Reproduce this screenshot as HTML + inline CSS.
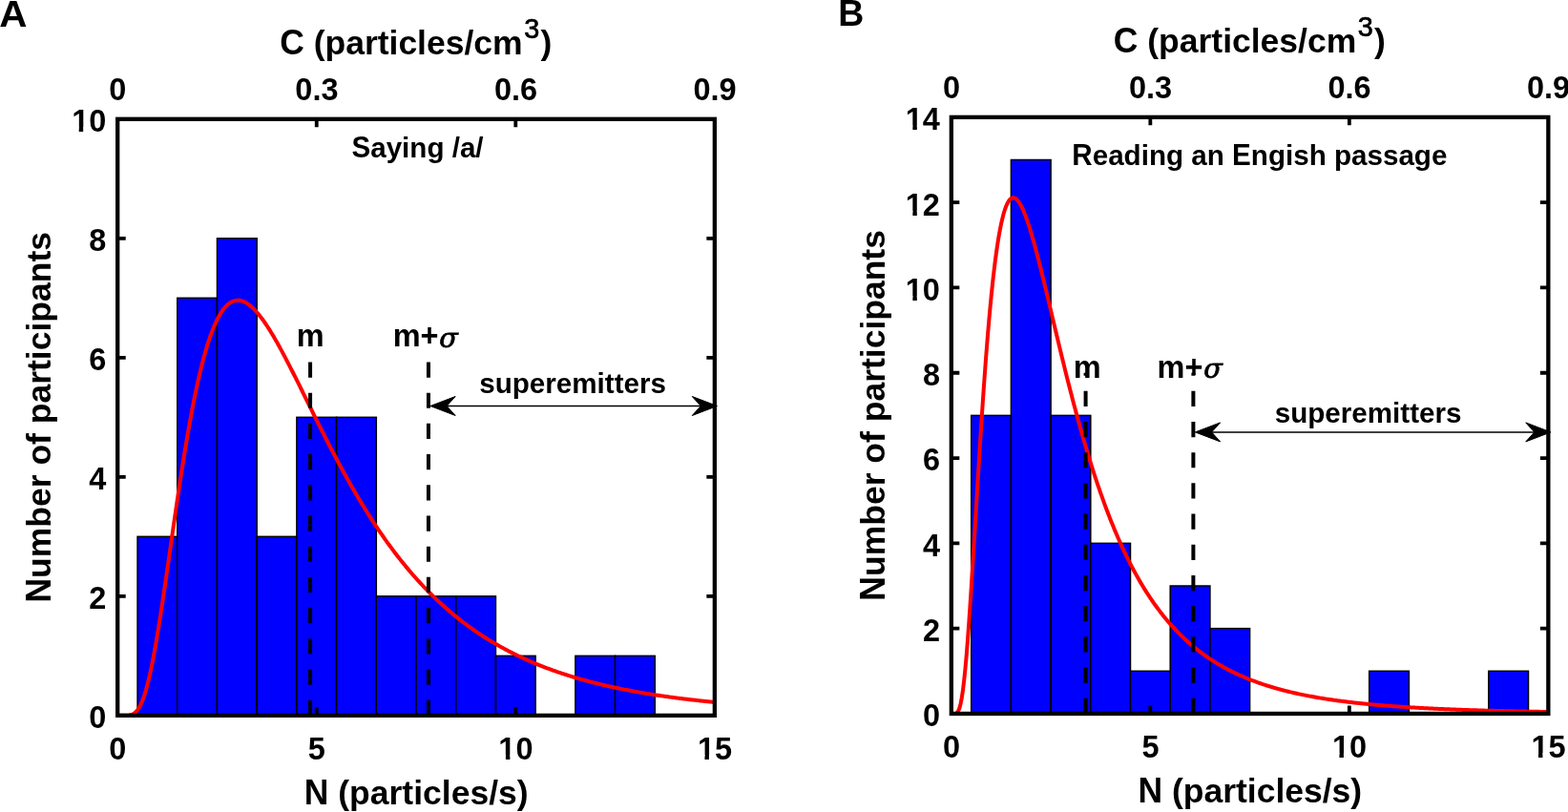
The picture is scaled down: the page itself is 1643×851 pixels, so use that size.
<!DOCTYPE html><html><head><meta charset="utf-8"><title>Particle emission histograms</title><style>html,body{margin:0;padding:0;background:#fff;overflow:hidden}svg{display:block}text{white-space:pre}</style></head><body><svg xml:space="preserve" width="1643" height="851" viewBox="0 0 1643 851"><defs><clipPath id="nofoot" clipPathUnits="userSpaceOnUse"><path clip-rule="evenodd" d="M-10 -10H1660V870H-10ZM75.15 133.32H82.74V139.7H75.15ZM87.19 133.32H93.84V139.7H87.19ZM522.33 791.18H529.91V797.55H522.33ZM534.37 791.18H541.01V797.55H534.37ZM730.88 791.18H738.46V797.55H730.88ZM742.92 791.18H749.56V797.55H742.92ZM948.8 309.98H956.39V316.35H948.8ZM960.84 309.98H967.49V316.35H960.84ZM948.8 220.68H956.39V227.05H948.8ZM960.84 220.68H967.49V227.05H960.84ZM948.8 131.38H956.39V137.75H948.8ZM960.84 131.38H967.49V137.75H960.84ZM1395.88 789.28H1403.46V795.65H1395.88ZM1407.92 789.28H1414.56V795.65H1407.92ZM1604.38 789.28H1611.96V795.65H1604.38ZM1616.42 789.28H1623.06V795.65H1616.42Z"/></clipPath></defs><rect width="1643" height="851" fill="#fff"/><g fill="#0000ff" stroke="#000" stroke-width="1.5"><rect x="144.06" y="562.34" width="41.71" height="187.52"/><rect x="185.76" y="312.31" width="41.71" height="437.54"/><rect x="227.48" y="249.81" width="41.71" height="500.04"/><rect x="269.19" y="562.34" width="41.71" height="187.52"/><rect x="310.89" y="437.32" width="41.71" height="312.53"/><rect x="352.61" y="437.32" width="41.71" height="312.53"/><rect x="394.31" y="624.84" width="41.71" height="125.01"/><rect x="436.02" y="624.84" width="41.71" height="125.01"/><rect x="477.74" y="624.84" width="41.71" height="125.01"/><rect x="519.45" y="687.35" width="41.71" height="62.51"/><rect x="602.87" y="687.35" width="41.71" height="62.51"/><rect x="644.58" y="687.35" width="41.71" height="62.51"/></g><polyline fill="none" stroke="#ff0000" stroke-width="4" stroke-linejoin="round" points="123.2,749.85 124.03,749.85 125.28,749.85 126.53,749.85 127.78,749.85 129.03,749.85 130.28,749.84 131.53,749.83 132.78,749.79 134.03,749.71 135.28,749.57 136.53,749.34 137.78,748.99 139.03,748.48 140.28,747.78 141.53,746.85 142.78,745.65 144.03,744.17 145.28,742.36 146.53,740.2 147.78,737.68 149.03,734.78 150.28,731.49 151.53,727.8 152.78,723.72 154.03,719.23 155.27,714.36 156.52,709.1 157.77,703.48 159.02,697.5 160.27,691.19 161.52,684.55 162.77,677.62 164.02,670.41 165.27,662.95 166.52,655.25 167.77,647.35 169.02,639.27 170.27,631.02 171.52,622.64 172.77,614.14 174.02,605.55 175.27,596.89 176.52,588.19 177.77,579.45 179.02,570.7 180.27,561.97 181.52,553.26 182.77,544.59 184.02,535.99 185.27,527.46 186.52,519.01 187.77,510.67 189.02,502.44 190.26,494.34 191.51,486.37 192.76,478.54 194.01,470.87 195.26,463.35 196.51,456.01 197.76,448.83 199.01,441.84 200.26,435.02 201.51,428.4 202.76,421.96 204.01,415.72 205.26,409.68 206.51,403.83 207.76,398.18 209.01,392.73 210.26,387.49 211.51,382.44 212.76,377.59 214.01,372.95 215.26,368.5 216.51,364.25 217.76,360.2 219.01,356.34 220.26,352.67 221.51,349.19 222.76,345.9 224,342.8 225.25,339.88 226.5,337.14 227.75,334.57 229,332.18 230.25,329.96 231.5,327.91 232.75,326.02 234,324.29 235.25,322.72 236.5,321.31 237.75,320.04 239,318.92 240.25,317.94 241.5,317.11 242.75,316.4 244,315.84 245.25,315.4 246.5,315.08 247.75,314.89 249,314.82 250.25,314.86 251.5,315.01 252.75,315.27 254,315.64 255.25,316.11 256.5,316.68 257.74,317.34 258.99,318.09 260.24,318.94 261.49,319.87 262.74,320.88 263.99,321.97 265.24,323.14 266.49,324.39 267.74,325.7 268.99,327.09 270.24,328.54 271.49,330.06 272.74,331.63 273.99,333.27 275.24,334.96 276.49,336.7 277.74,338.5 278.99,340.35 280.24,342.24 281.49,344.18 282.74,346.16 283.99,348.18 285.24,350.24 286.49,352.34 287.74,354.47 288.99,356.63 290.24,358.83 291.48,361.06 292.73,363.31 293.98,365.59 295.23,367.89 296.48,370.22 297.73,372.57 298.98,374.94 300.23,377.33 301.48,379.73 302.73,382.16 303.98,384.59 305.23,387.04 306.48,389.5 307.73,391.98 308.98,394.46 310.23,396.95 311.48,399.45 312.73,401.96 313.98,404.47 315.23,406.99 316.48,409.51 317.73,412.04 318.98,414.57 320.23,417.09 321.48,419.62 322.73,422.15 323.98,424.68 325.22,427.21 326.47,429.73 327.72,432.25 328.97,434.77 330.22,437.28 331.47,439.79 332.72,442.29 333.97,444.79 335.22,447.28 336.47,449.77 337.72,452.24 338.97,454.71 340.22,457.17 341.47,459.62 342.72,462.06 343.97,464.5 345.22,466.92 346.47,469.33 347.72,471.73 348.97,474.12 350.22,476.5 351.47,478.87 352.72,481.23 353.97,483.57 355.22,485.91 356.47,488.23 357.72,490.53 358.96,492.83 360.21,495.11 361.46,497.37 362.71,499.63 363.96,501.87 365.21,504.1 366.46,506.31 367.71,508.51 368.96,510.69 370.21,512.86 371.46,515.02 372.71,517.16 373.96,519.28 375.21,521.4 376.46,523.49 377.71,525.57 378.96,527.64 380.21,529.69 381.46,531.73 382.71,533.75 383.96,535.76 385.21,537.75 386.46,539.73 387.71,541.69 388.96,543.64 390.21,545.57 391.46,547.49 392.7,549.39 393.95,551.27 395.2,553.14 396.45,555 397.7,556.84 398.95,558.67 400.2,560.48 401.45,562.27 402.7,564.05 403.95,565.82 405.2,567.57 406.45,569.31 407.7,571.03 408.95,572.74 410.2,574.43 411.45,576.11 412.7,577.77 413.95,579.42 415.2,581.05 416.45,582.67 417.7,584.28 418.95,585.87 420.2,587.44 421.45,589.01 422.7,590.56 423.95,592.09 425.2,593.61 426.45,595.12 427.69,596.61 428.94,598.09 430.19,599.56 431.44,601.01 432.69,602.45 433.94,603.88 435.19,605.29 436.44,606.69 437.69,608.08 438.94,609.45 440.19,610.82 441.44,612.16 442.69,613.5 443.94,614.82 445.19,616.13 446.44,617.43 447.69,618.72 448.94,619.99 450.19,621.25 451.44,622.5 452.69,623.74 453.94,624.97 455.19,626.18 456.44,627.39 457.69,628.58 458.94,629.76 460.19,630.92 461.43,632.08 462.68,633.23 463.93,634.36 465.18,635.48 466.43,636.6 467.68,637.7 468.93,638.79 470.18,639.87 471.43,640.94 472.68,642 473.93,643.05 475.18,644.09 476.43,645.12 477.68,646.13 478.93,647.14 480.18,648.14 481.43,649.13 482.68,650.11 483.93,651.08 485.18,652.04 486.43,652.99 487.68,653.93 488.93,654.86 490.18,655.78 491.43,656.69 492.68,657.6 493.93,658.49 495.17,659.38 496.42,660.26 497.67,661.12 498.92,661.98 500.17,662.83 501.42,663.68 502.67,664.51 503.92,665.34 505.17,666.16 506.42,666.97 507.67,667.77 508.92,668.56 510.17,669.35 511.42,670.12 512.67,670.89 513.92,671.66 515.17,672.41 516.42,673.16 517.67,673.9 518.92,674.63 520.17,675.35 521.42,676.07 522.67,676.78 523.92,677.48 525.17,678.18 526.42,678.87 527.67,679.55 528.91,680.23 530.16,680.89 531.41,681.56 532.66,682.21 533.91,682.86 535.16,683.5 536.41,684.14 537.66,684.77 538.91,685.39 540.16,686.01 541.41,686.62 542.66,687.22 543.91,687.82 545.16,688.41 546.41,689 547.66,689.58 548.91,690.15 550.16,690.72 551.41,691.28 552.66,691.84 553.91,692.39 555.16,692.94 556.41,693.48 557.66,694.02 558.91,694.55 560.16,695.07 561.41,695.59 562.65,696.1 563.9,696.61 565.15,697.12 566.4,697.62 567.65,698.11 568.9,698.6 570.15,699.08 571.4,699.56 572.65,700.04 573.9,700.51 575.15,700.97 576.4,701.43 577.65,701.89 578.9,702.34 580.15,702.78 581.4,703.23 582.65,703.66 583.9,704.1 585.15,704.53 586.4,704.95 587.65,705.37 588.9,705.79 590.15,706.2 591.4,706.61 592.65,707.01 593.9,707.41 595.15,707.81 596.39,708.2 597.64,708.59 598.89,708.97 600.14,709.35 601.39,709.73 602.64,710.1 603.89,710.47 605.14,710.83 606.39,711.2 607.64,711.55 608.89,711.91 610.14,712.26 611.39,712.61 612.64,712.95 613.89,713.29 615.14,713.63 616.39,713.96 617.64,714.3 618.89,714.62 620.14,714.95 621.39,715.27 622.64,715.59 623.89,715.9 625.14,716.21 626.39,716.52 627.64,716.83 628.89,717.13 630.13,717.43 631.38,717.73 632.63,718.02 633.88,718.31 635.13,718.6 636.38,718.88 637.63,719.17 638.88,719.44 640.13,719.72 641.38,720 642.63,720.27 643.88,720.54 645.13,720.8 646.38,721.07 647.63,721.33 648.88,721.58 650.13,721.84 651.38,722.09 652.63,722.34 653.88,722.59 655.13,722.84 656.38,723.08 657.63,723.32 658.88,723.56 660.13,723.8 661.38,724.03 662.63,724.27 663.88,724.5 665.12,724.72 666.37,724.95 667.62,725.17 668.87,725.39 670.12,725.61 671.37,725.83 672.62,726.04 673.87,726.26 675.12,726.47 676.37,726.68 677.62,726.88 678.87,727.09 680.12,727.29 681.37,727.49 682.62,727.69 683.87,727.88 685.12,728.08 686.37,728.27 687.62,728.46 688.87,728.65 690.12,728.84 691.37,729.03 692.62,729.21 693.87,729.39 695.12,729.57 696.37,729.75 697.62,729.93 698.86,730.1 700.11,730.28 701.36,730.45 702.61,730.62 703.86,730.79 705.11,730.96 706.36,731.12 707.61,731.29 708.86,731.45 710.11,731.61 711.36,731.77 712.61,731.93 713.86,732.08 715.11,732.24 716.36,732.39 717.61,732.54 718.86,732.69 720.11,732.84 721.36,732.99 722.61,733.14 723.86,733.28 725.11,733.42 726.36,733.57 727.61,733.71 728.86,733.85 730.11,733.99 731.36,734.12 732.6,734.26 733.85,734.39 735.1,734.53 736.35,734.66 737.6,734.79 738.85,734.92 740.1,735.05 741.35,735.17 742.6,735.3 743.85,735.42 745.1,735.55 746.35,735.67 747.6,735.79 748.85,735.91"/><g stroke="#000" stroke-width="4" stroke-dasharray="16.2 16"><line x1="325.08" y1="749.85" x2="325.08" y2="374.82"/><line x1="448.96" y1="749.85" x2="448.96" y2="374.82"/></g><line x1="460.96" y1="425.5" x2="741.45" y2="425.5" stroke="#000" stroke-width="1.5"/><path stroke="#000" stroke-width="1" stroke-linejoin="round" d="M450.96 425.5L477.16 415.5L468.16 425.5L477.16 435.5ZM751.45 425.5L725.25 415.5L734.25 425.5L725.25 435.5Z"/><rect x="123.2" y="124.8" width="625.65" height="625.05" fill="none" stroke="#000" stroke-width="4.3"/><path d="M123.2 624.84H131.7M748.85 624.84H740.35M123.2 499.83H131.7M748.85 499.83H740.35M123.2 374.82H131.7M748.85 374.82H740.35M123.2 249.81H131.7M748.85 249.81H740.35M331.75 749.85V741.35M540.3 749.85V741.35M331.75 124.8V133.3M540.3 124.8V133.3" stroke="#000" stroke-width="3.8" fill="none"/><g font-family="'Liberation Sans', Arial, Helvetica, sans-serif" font-weight="bold" fill="#000"><g clip-path="url(#nofoot)"><text transform="translate(93.23 763.25) scale(1 1.04)" font-size="32.5">0</text><text transform="translate(93.23 638.24) scale(1 1.04)" font-size="32.5">2</text><text transform="translate(93.23 513.23) scale(1 1.04)" font-size="32.5">4</text><text transform="translate(93.23 388.22) scale(1 1.04)" font-size="32.5">6</text><text transform="translate(93.23 263.21) scale(1 1.04)" font-size="32.5">8</text><text transform="translate(75.15 138.2) scale(1 1.04)" font-size="32.5">10</text><text transform="translate(114.26 796.05) scale(1 1.04)" font-size="32.5">0</text><text transform="translate(322.81 796.05) scale(1 1.04)" font-size="32.5">5</text><text transform="translate(522.33 796.05) scale(1 1.04)" font-size="32.5">10</text><text transform="translate(730.88 796.05) scale(1 1.04)" font-size="32.5">15</text><text transform="translate(114.36 105.2) scale(1 1.04)" font-size="32.5">0</text><text transform="translate(309.36 105.2) scale(1 1.04)" font-size="32.5">0</text><text x="327.44" y="105.2" font-size="32.5">.</text><text transform="translate(336.46 105.2) scale(1 1.04)" font-size="32.5">3</text><text transform="translate(517.91 105.2) scale(1 1.04)" font-size="32.5">0</text><text x="535.99" y="105.2" font-size="32.5">.</text><text transform="translate(545.01 105.2) scale(1 1.04)" font-size="32.5">6</text><text transform="translate(726.46 105.2) scale(1 1.04)" font-size="32.5">0</text><text x="744.54" y="105.2" font-size="32.5">.</text><text transform="translate(753.56 105.2) scale(1 1.04)" font-size="32.5">9</text></g><text transform="translate(318.81 843.3) scale(1 1.04)" font-size="35.5">N</text><text x="344.45" y="843.3" font-size="35.5"> (particles/s)</text><text transform="translate(293.14 56.8) scale(1 1.04)" font-size="35.5">C</text><text x="318.78" y="56.8" font-size="35.5"> (particles/cm</text><text x="549.21" y="40.2" font-size="28.8" font-weight="normal" stroke="#000" stroke-width="0.7">3</text><text x="566.4" y="56.8" font-size="35.5">)</text><text transform="translate(53.3 631.59) rotate(-90) scale(1 1.04)" font-size="35.5">N</text><text transform="translate(53.3 605.95) rotate(-90) scale(1 1)" font-size="35.5">umber of participants</text></g><g fill="#0000ff" stroke="#000" stroke-width="1.5"><rect x="1017.7" y="435.4" width="41.7" height="312.55"/><rect x="1059.4" y="167.5" width="41.7" height="580.45"/><rect x="1101.1" y="435.4" width="41.7" height="312.55"/><rect x="1142.8" y="569.35" width="41.7" height="178.6"/><rect x="1184.5" y="703.3" width="41.7" height="44.65"/><rect x="1226.2" y="614" width="41.7" height="133.95"/><rect x="1267.9" y="658.65" width="41.7" height="89.3"/><rect x="1434.7" y="703.3" width="41.7" height="44.65"/><rect x="1559.8" y="703.3" width="41.7" height="44.65"/></g><polyline fill="none" stroke="#ff0000" stroke-width="4" stroke-linejoin="round" points="996.85,747.95 997.68,747.95 998.93,747.95 1000.18,747.92 1001.43,747.71 1002.68,747.02 1003.93,745.47 1005.18,742.64 1006.43,738.2 1007.68,731.91 1008.93,723.64 1010.18,713.36 1011.43,701.14 1012.68,687.11 1013.93,671.46 1015.17,654.39 1016.42,636.14 1017.67,616.93 1018.92,597 1020.17,576.56 1021.42,555.83 1022.67,534.98 1023.92,514.2 1025.17,493.63 1026.42,473.41 1027.67,453.65 1028.92,434.45 1030.17,415.89 1031.42,398.04 1032.67,380.95 1033.91,364.66 1035.16,349.2 1036.41,334.6 1037.66,320.86 1038.91,307.99 1040.16,295.99 1041.41,284.86 1042.66,274.57 1043.91,265.12 1045.16,256.49 1046.41,248.66 1047.66,241.59 1048.91,235.28 1050.16,229.69 1051.41,224.79 1052.65,220.56 1053.9,216.97 1055.15,213.98 1056.4,211.59 1057.65,209.74 1058.9,208.42 1060.15,207.6 1061.4,207.25 1062.65,207.35 1063.9,207.88 1065.15,208.8 1066.4,210.09 1067.65,211.73 1068.9,213.7 1070.15,215.98 1071.39,218.55 1072.64,221.38 1073.89,224.46 1075.14,227.77 1076.39,231.3 1077.64,235.02 1078.89,238.93 1080.14,243 1081.39,247.23 1082.64,251.59 1083.89,256.08 1085.14,260.69 1086.39,265.4 1087.64,270.2 1088.89,275.09 1090.13,280.05 1091.38,285.07 1092.63,290.15 1093.88,295.28 1095.13,300.45 1096.38,305.64 1097.63,310.87 1098.88,316.12 1100.13,321.37 1101.38,326.64 1102.63,331.91 1103.88,337.18 1105.13,342.45 1106.38,347.7 1107.63,352.94 1108.87,358.16 1110.12,363.36 1111.37,368.53 1112.62,373.68 1113.87,378.79 1115.12,383.88 1116.37,388.93 1117.62,393.94 1118.87,398.92 1120.12,403.85 1121.37,408.74 1122.62,413.59 1123.87,418.39 1125.12,423.14 1126.37,427.85 1127.61,432.51 1128.86,437.12 1130.11,441.68 1131.36,446.19 1132.61,450.65 1133.86,455.06 1135.11,459.41 1136.36,463.72 1137.61,467.97 1138.86,472.16 1140.11,476.31 1141.36,480.4 1142.61,484.44 1143.86,488.42 1145.11,492.36 1146.35,496.24 1147.6,500.06 1148.85,503.84 1150.1,507.56 1151.35,511.23 1152.6,514.85 1153.85,518.42 1155.1,521.94 1156.35,525.4 1157.6,528.82 1158.85,532.18 1160.1,535.5 1161.35,538.77 1162.6,541.99 1163.85,545.16 1165.09,548.28 1166.34,551.36 1167.59,554.39 1168.84,557.38 1170.09,560.32 1171.34,563.21 1172.59,566.06 1173.84,568.87 1175.09,571.63 1176.34,574.35 1177.59,577.03 1178.84,579.66 1180.09,582.26 1181.34,584.81 1182.59,587.32 1183.83,589.8 1185.08,592.23 1186.33,594.63 1187.58,596.99 1188.83,599.31 1190.08,601.59 1191.33,603.84 1192.58,606.06 1193.83,608.23 1195.08,610.38 1196.33,612.48 1197.58,614.56 1198.83,616.6 1200.08,618.61 1201.33,620.58 1202.57,622.53 1203.82,624.44 1205.07,626.33 1206.32,628.18 1207.57,630 1208.82,631.79 1210.07,633.56 1211.32,635.29 1212.57,637 1213.82,638.68 1215.07,640.34 1216.32,641.96 1217.57,643.56 1218.82,645.14 1220.07,646.69 1221.31,648.21 1222.56,649.71 1223.81,651.19 1225.06,652.64 1226.31,654.07 1227.56,655.47 1228.81,656.86 1230.06,658.22 1231.31,659.56 1232.56,660.87 1233.81,662.17 1235.06,663.45 1236.31,664.7 1237.56,665.94 1238.81,667.15 1240.05,668.35 1241.3,669.52 1242.55,670.68 1243.8,671.82 1245.05,672.94 1246.3,674.04 1247.55,675.13 1248.8,676.2 1250.05,677.25 1251.3,678.28 1252.55,679.3 1253.8,680.3 1255.05,681.29 1256.3,682.26 1257.55,683.21 1258.79,684.15 1260.04,685.07 1261.29,685.98 1262.54,686.88 1263.79,687.76 1265.04,688.63 1266.29,689.48 1267.54,690.32 1268.79,691.15 1270.04,691.96 1271.29,692.77 1272.54,693.55 1273.79,694.33 1275.04,695.1 1276.29,695.85 1277.53,696.59 1278.78,697.32 1280.03,698.04 1281.28,698.74 1282.53,699.44 1283.78,700.12 1285.03,700.8 1286.28,701.46 1287.53,702.11 1288.78,702.76 1290.03,703.39 1291.28,704.01 1292.53,704.63 1293.78,705.23 1295.03,705.83 1296.27,706.41 1297.52,706.99 1298.77,707.56 1300.02,708.12 1301.27,708.67 1302.52,709.21 1303.77,709.75 1305.02,710.27 1306.27,710.79 1307.52,711.3 1308.77,711.81 1310.02,712.3 1311.27,712.79 1312.52,713.27 1313.76,713.74 1315.01,714.21 1316.26,714.67 1317.51,715.12 1318.76,715.56 1320.01,716 1321.26,716.43 1322.51,716.86 1323.76,717.28 1325.01,717.69 1326.26,718.1 1327.51,718.5 1328.76,718.89 1330.01,719.28 1331.26,719.67 1332.5,720.04 1333.75,720.42 1335,720.78 1336.25,721.14 1337.5,721.5 1338.75,721.85 1340,722.19 1341.25,722.53 1342.5,722.87 1343.75,723.2 1345,723.53 1346.25,723.85 1347.5,724.16 1348.75,724.47 1350,724.78 1351.24,725.08 1352.49,725.38 1353.74,725.68 1354.99,725.97 1356.24,726.25 1357.49,726.53 1358.74,726.81 1359.99,727.08 1361.24,727.35 1362.49,727.62 1363.74,727.88 1364.99,728.14 1366.24,728.39 1367.49,728.64 1368.74,728.89 1369.98,729.13 1371.23,729.37 1372.48,729.61 1373.73,729.84 1374.98,730.07 1376.23,730.3 1377.48,730.52 1378.73,730.75 1379.98,730.96 1381.23,731.18 1382.48,731.39 1383.73,731.6 1384.98,731.8 1386.23,732 1387.48,732.2 1388.72,732.4 1389.97,732.6 1391.22,732.79 1392.47,732.98 1393.72,733.16 1394.97,733.35 1396.22,733.53 1397.47,733.71 1398.72,733.88 1399.97,734.06 1401.22,734.23 1402.47,734.4 1403.72,734.56 1404.97,734.73 1406.22,734.89 1407.46,735.05 1408.71,735.21 1409.96,735.36 1411.21,735.52 1412.46,735.67 1413.71,735.82 1414.96,735.97 1416.21,736.11 1417.46,736.25 1418.71,736.4 1419.96,736.54 1421.21,736.67 1422.46,736.81 1423.71,736.94 1424.96,737.08 1426.2,737.21 1427.45,737.34 1428.7,737.46 1429.95,737.59 1431.2,737.71 1432.45,737.83 1433.7,737.95 1434.95,738.07 1436.2,738.19 1437.45,738.31 1438.7,738.42 1439.95,738.53 1441.2,738.64 1442.45,738.75 1443.7,738.86 1444.94,738.97 1446.19,739.07 1447.44,739.18 1448.69,739.28 1449.94,739.38 1451.19,739.48 1452.44,739.58 1453.69,739.68 1454.94,739.78 1456.19,739.87 1457.44,739.96 1458.69,740.06 1459.94,740.15 1461.19,740.24 1462.44,740.33 1463.68,740.42 1464.93,740.5 1466.18,740.59 1467.43,740.67 1468.68,740.76 1469.93,740.84 1471.18,740.92 1472.43,741 1473.68,741.08 1474.93,741.16 1476.18,741.24 1477.43,741.31 1478.68,741.39 1479.93,741.46 1481.18,741.53 1482.42,741.61 1483.67,741.68 1484.92,741.75 1486.17,741.82 1487.42,741.89 1488.67,741.96 1489.92,742.02 1491.17,742.09 1492.42,742.16 1493.67,742.22 1494.92,742.28 1496.17,742.35 1497.42,742.41 1498.67,742.47 1499.92,742.53 1501.16,742.59 1502.41,742.65 1503.66,742.71 1504.91,742.77 1506.16,742.83 1507.41,742.88 1508.66,742.94 1509.91,742.99 1511.16,743.05 1512.41,743.1 1513.66,743.15 1514.91,743.21 1516.16,743.26 1517.41,743.31 1518.66,743.36 1519.9,743.41 1521.15,743.46 1522.4,743.51 1523.65,743.56 1524.9,743.6 1526.15,743.65 1527.4,743.7 1528.65,743.74 1529.9,743.79 1531.15,743.83 1532.4,743.88 1533.65,743.92 1534.9,743.97 1536.15,744.01 1537.4,744.05 1538.64,744.09 1539.89,744.13 1541.14,744.17 1542.39,744.21 1543.64,744.25 1544.89,744.29 1546.14,744.33 1547.39,744.37 1548.64,744.41 1549.89,744.45 1551.14,744.48 1552.39,744.52 1553.64,744.56 1554.89,744.59 1556.14,744.63 1557.38,744.66 1558.63,744.7 1559.88,744.73 1561.13,744.76 1562.38,744.8 1563.63,744.83 1564.88,744.86 1566.13,744.89 1567.38,744.93 1568.63,744.96 1569.88,744.99 1571.13,745.02 1572.38,745.05 1573.63,745.08 1574.88,745.11 1576.12,745.14 1577.37,745.17 1578.62,745.2 1579.87,745.22 1581.12,745.25 1582.37,745.28 1583.62,745.31 1584.87,745.33 1586.12,745.36 1587.37,745.39 1588.62,745.41 1589.87,745.44 1591.12,745.47 1592.37,745.49 1593.62,745.52 1594.86,745.54 1596.11,745.56 1597.36,745.59 1598.61,745.61 1599.86,745.64 1601.11,745.66 1602.36,745.68 1603.61,745.71 1604.86,745.73 1606.11,745.75 1607.36,745.77 1608.61,745.79 1609.86,745.82 1611.11,745.84 1612.36,745.86 1613.6,745.88 1614.85,745.9 1616.1,745.92 1617.35,745.94 1618.6,745.96 1619.85,745.98 1621.1,746 1622.35,746.02"/><g stroke="#000" stroke-width="4" stroke-dasharray="16.2 16"><line x1="1137.59" y1="747.95" x2="1137.59" y2="390.75"/><line x1="1250.39" y1="747.95" x2="1250.39" y2="390.75"/></g><line x1="1262.39" y1="452.9" x2="1614.95" y2="452.9" stroke="#000" stroke-width="1.5"/><path stroke="#000" stroke-width="1" stroke-linejoin="round" d="M1252.39 452.9L1278.59 442.9L1269.59 452.9L1278.59 462.9ZM1624.95 452.9L1598.75 442.9L1607.75 452.9L1598.75 462.9Z"/><rect x="996.85" y="122.85" width="625.5" height="625.1" fill="none" stroke="#000" stroke-width="4.3"/><path d="M996.85 658.65H1005.35M1622.35 658.65H1613.85M996.85 569.35H1005.35M1622.35 569.35H1613.85M996.85 480.05H1005.35M1622.35 480.05H1613.85M996.85 390.75H1005.35M1622.35 390.75H1613.85M996.85 301.45H1005.35M1622.35 301.45H1613.85M996.85 212.15H1005.35M1622.35 212.15H1613.85M1205.35 747.95V739.45M1413.85 747.95V739.45M1205.35 122.85V131.35M1413.85 122.85V131.35" stroke="#000" stroke-width="3.8" fill="none"/><g font-family="'Liberation Sans', Arial, Helvetica, sans-serif" font-weight="bold" fill="#000"><g clip-path="url(#nofoot)"><text transform="translate(966.88 761.35) scale(1 1.04)" font-size="32.5">0</text><text transform="translate(966.88 672.05) scale(1 1.04)" font-size="32.5">2</text><text transform="translate(966.88 582.75) scale(1 1.04)" font-size="32.5">4</text><text transform="translate(966.88 493.45) scale(1 1.04)" font-size="32.5">6</text><text transform="translate(966.88 404.15) scale(1 1.04)" font-size="32.5">8</text><text transform="translate(948.8 314.85) scale(1 1.04)" font-size="32.5">10</text><text transform="translate(948.8 225.55) scale(1 1.04)" font-size="32.5">12</text><text transform="translate(948.8 136.25) scale(1 1.04)" font-size="32.5">14</text><text transform="translate(987.91 794.15) scale(1 1.04)" font-size="32.5">0</text><text transform="translate(1196.41 794.15) scale(1 1.04)" font-size="32.5">5</text><text transform="translate(1395.88 794.15) scale(1 1.04)" font-size="32.5">10</text><text transform="translate(1604.38 794.15) scale(1 1.04)" font-size="32.5">15</text><text transform="translate(988.01 103.25) scale(1 1.04)" font-size="32.5">0</text><text transform="translate(1182.96 103.25) scale(1 1.04)" font-size="32.5">0</text><text x="1201.04" y="103.25" font-size="32.5">.</text><text transform="translate(1210.06 103.25) scale(1 1.04)" font-size="32.5">3</text><text transform="translate(1391.46 103.25) scale(1 1.04)" font-size="32.5">0</text><text x="1409.54" y="103.25" font-size="32.5">.</text><text transform="translate(1418.56 103.25) scale(1 1.04)" font-size="32.5">6</text><text transform="translate(1599.96 103.25) scale(1 1.04)" font-size="32.5">0</text><text x="1618.04" y="103.25" font-size="32.5">.</text><text transform="translate(1627.06 103.25) scale(1 1.04)" font-size="32.5">9</text></g><text transform="translate(1192.41 841.35) scale(1 1.04)" font-size="35.5">N</text><text x="1218.05" y="841.35" font-size="35.5"> (particles/s)</text><text transform="translate(1166.74 54.85) scale(1 1.04)" font-size="35.5">C</text><text x="1192.38" y="54.85" font-size="35.5"> (particles/cm</text><text x="1422.81" y="38.25" font-size="28.8" font-weight="normal" stroke="#000" stroke-width="0.7">3</text><text x="1440" y="54.85" font-size="35.5">)</text><text transform="translate(926.9 629.64) rotate(-90) scale(1 1.04)" font-size="35.5">N</text><text transform="translate(926.9 604) rotate(-90) scale(1 1)" font-size="35.5">umber of participants</text></g><g font-family="'Liberation Sans', Arial, Helvetica, sans-serif" font-weight="bold" fill="#000"><text transform="translate(-0.8 27.7) scale(1 0.98)" font-size="40.5">A</text><text transform="translate(878.19 27.3) scale(1 1.05)" font-size="37.5">B</text><text transform="translate(368.44 165.2) scale(1 1.04)" font-size="29.6">S</text><text x="388.18" y="165.2" font-size="29.6">aying /a/</text><text transform="translate(1123.32 172.8) scale(1 1.04)" font-size="29.6">R</text><text x="1144.69" y="172.8" font-size="29.6">eading an </text><text transform="translate(1291.07 172.8) scale(1 1.04)" font-size="29.6">E</text><text x="1310.82" y="172.8" font-size="29.6">ngish passage</text><text x="310.66" y="362.9" font-size="32.5">m</text><text x="411.66" y="362.9" font-size="32.5">m+</text><text x="1124.65" y="396" font-size="32.5">m</text><text x="1212.56" y="396" font-size="32.5">m+</text><text x="502.26" y="412.4" font-size="29.6">superemitters</text><text x="1335.76" y="442.9" font-size="29.6">superemitters</text></g><g font-family="'DejaVu Serif', 'Liberation Serif', serif" font-style="italic" fill="#000" stroke="#000" stroke-width="0.85"><text x="460.34" y="364.2" font-size="28.6">σ</text><text x="1261.14" y="395.6" font-size="28.6">σ</text></g></svg></body></html>
